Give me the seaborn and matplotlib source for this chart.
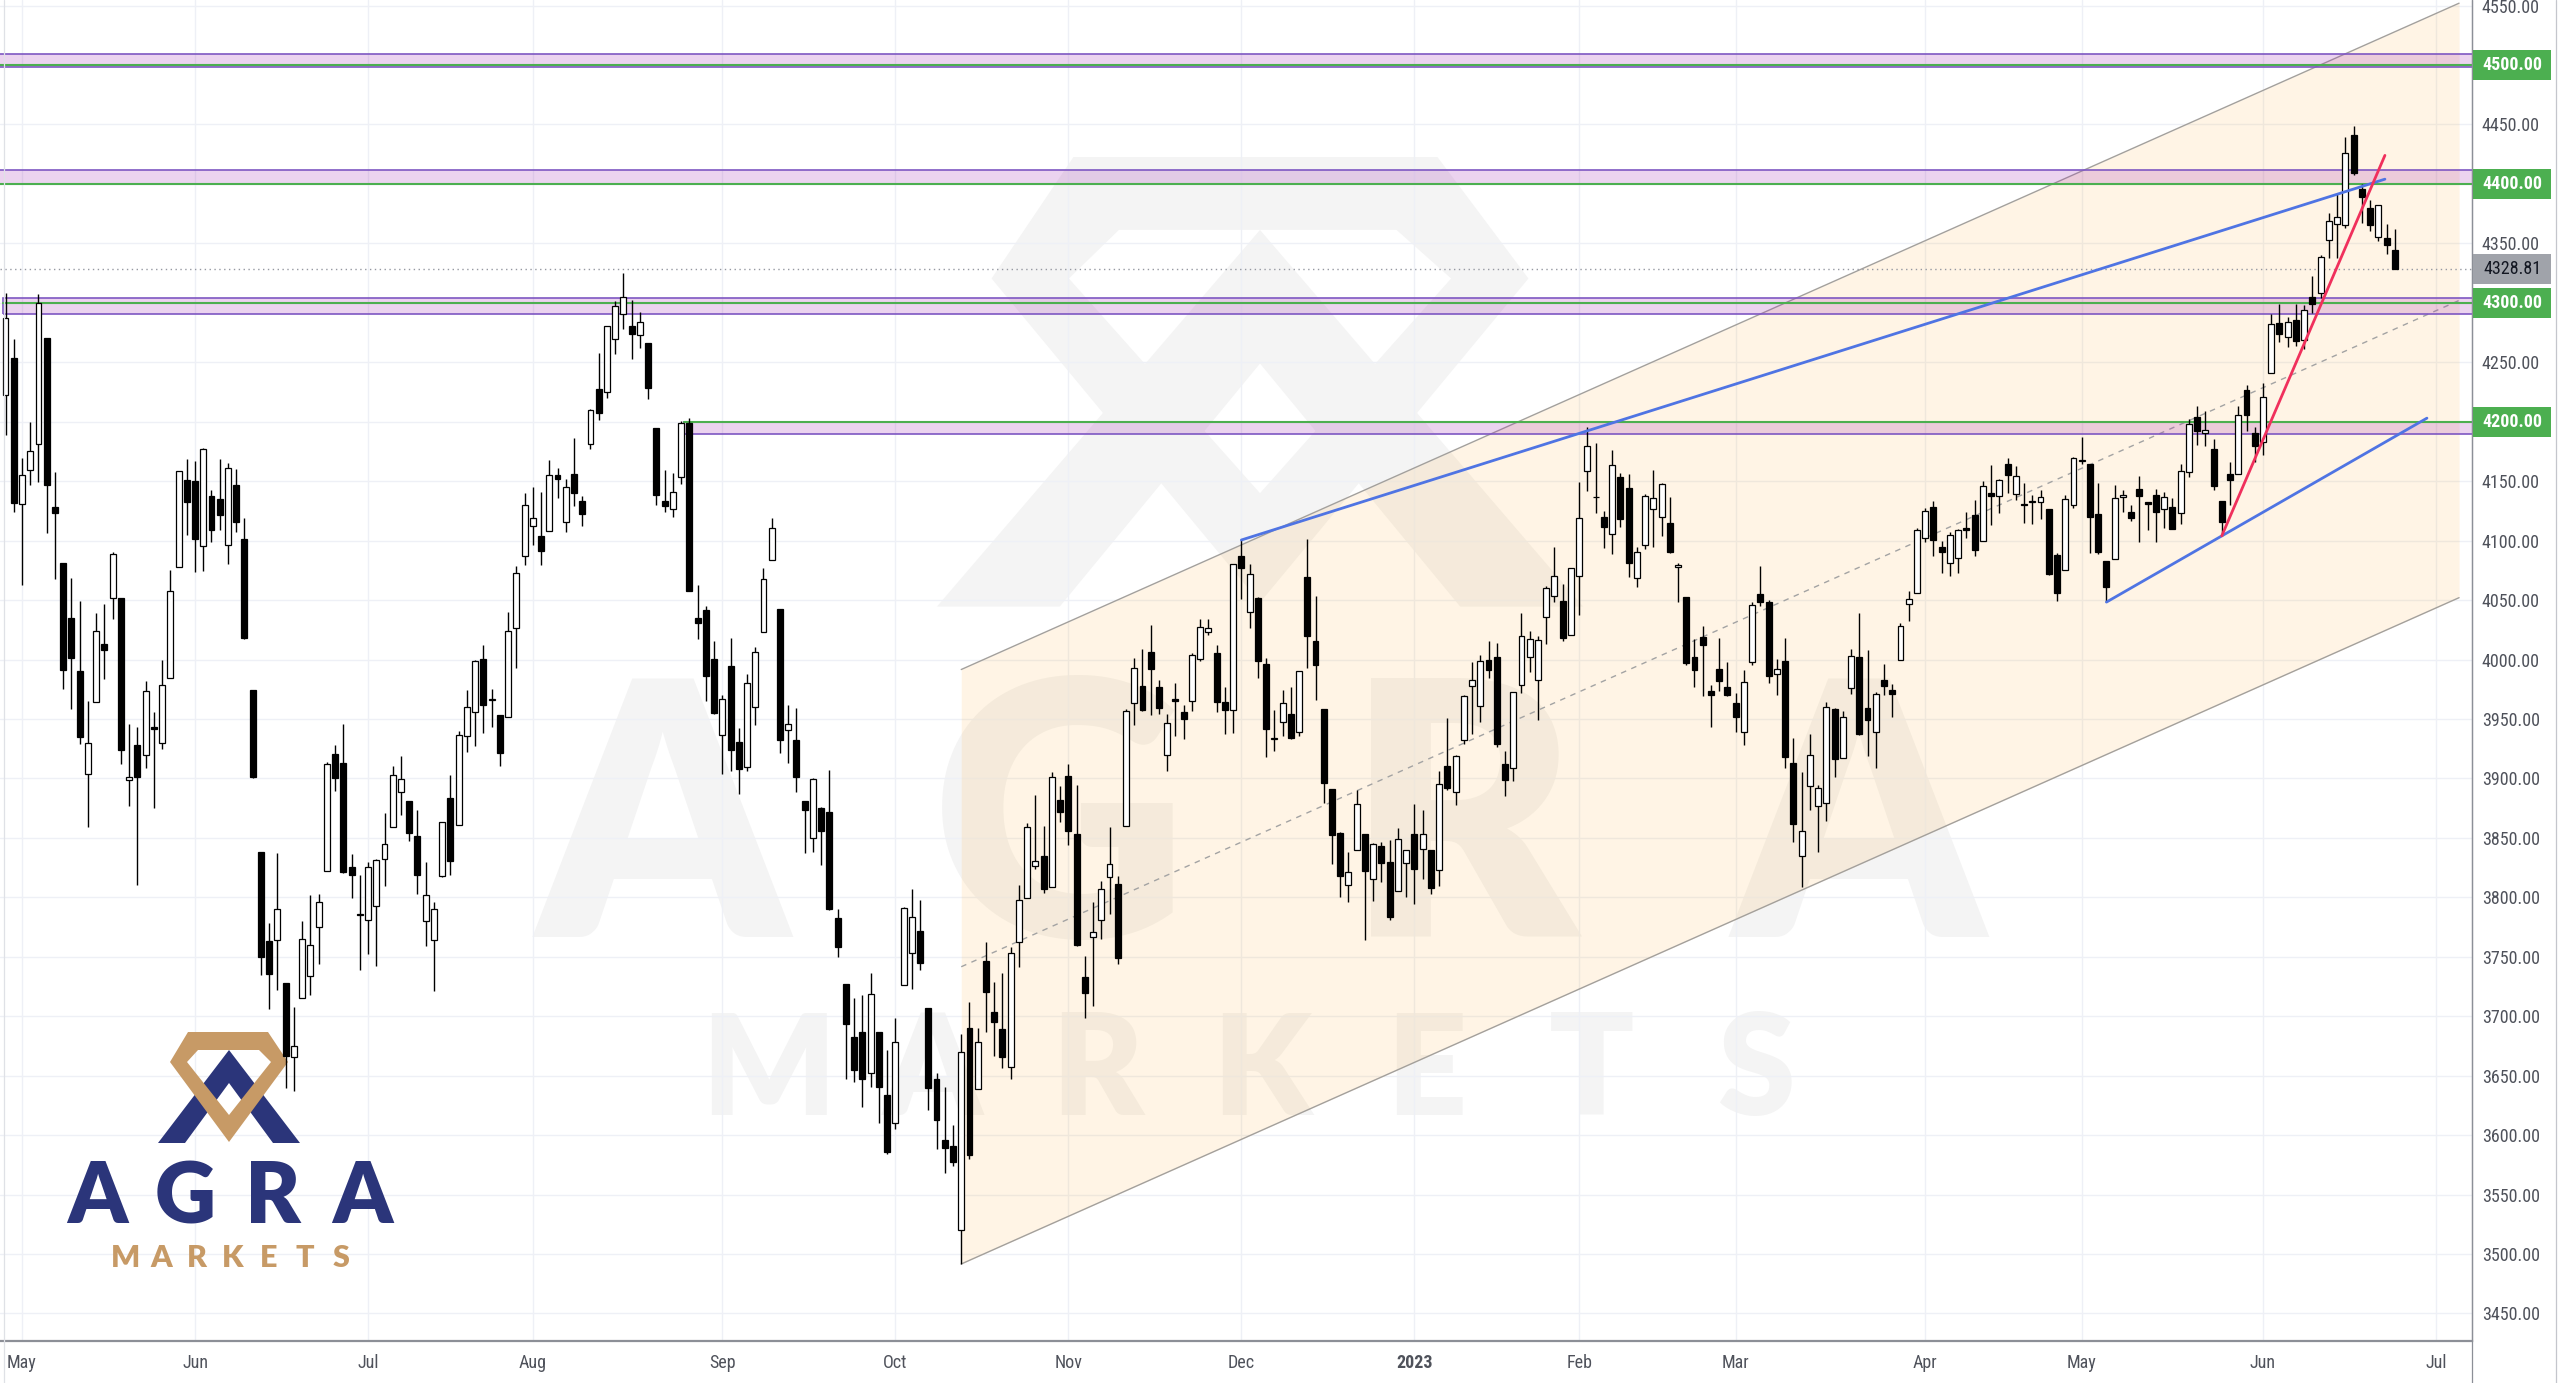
import numpy as np
import pandas as pd
import matplotlib
matplotlib.use('Agg')
import matplotlib.pyplot as plt
import matplotlib.transforms as mtransforms
from matplotlib import font_manager
import seaborn as sns
from matplotlib.patches import Polygon, Rectangle, PathPatch
from matplotlib.path import Path
from matplotlib.lines import Line2D

# S&P 500 daily candles: (open, high, low, close)
apr_2022 = [
    (4222.58, 4308.45, 4188.63, 4287.50), (4253.75, 4269.68, 4124.28, 4131.93),
]
may_2022 = [
    (4130.61, 4169.81, 4062.51, 4155.38), (4159.78, 4200.10, 4147.08, 4175.48),
    (4181.18, 4307.66, 4148.91, 4300.17), (4270.43, 4270.43, 4106.01, 4146.87),
    (4128.17, 4157.69, 4067.91, 4123.34), (4081.27, 4081.27, 3975.48, 3991.24),
    (4035.18, 4068.82, 3958.17, 4001.05), (3990.08, 4049.09, 3928.82, 3935.18),
    (3903.95, 3964.80, 3858.87, 3930.08), (3963.90, 4038.88, 3963.90, 4023.89),
    (4013.02, 4046.46, 3983.99, 4008.01), (4052.00, 4090.72, 4033.93, 4088.85),
    (4051.98, 4051.98, 3911.91, 3923.68), (3899.00, 3945.96, 3876.58, 3900.79),
    (3927.76, 3943.42, 3810.32, 3901.36), (3919.42, 3981.88, 3909.04, 3973.75),
    (3942.94, 3955.68, 3875.13, 3941.48), (3929.59, 3999.33, 3925.03, 3978.73),
    (3984.60, 4075.14, 3984.60, 4057.84), (4077.43, 4158.49, 4077.43, 4158.24),
    (4151.09, 4168.34, 4104.88, 4132.15),
]
jun_2022 = [
    (4149.78, 4166.54, 4073.85, 4101.23), (4095.41, 4177.51, 4074.37, 4176.82),
    (4137.57, 4142.67, 4098.67, 4108.54), (4134.72, 4168.78, 4109.18, 4121.43),
    (4096.47, 4164.86, 4080.19, 4160.68), (4147.12, 4160.14, 4107.20, 4115.77),
    (4101.65, 4119.10, 4017.17, 4017.82), (3974.39, 3974.39, 3900.16, 3900.86),
    (3838.15, 3838.15, 3734.30, 3749.63), (3763.52, 3778.18, 3705.68, 3735.48),
    (3764.05, 3837.56, 3722.30, 3789.99), (3728.18, 3728.18, 3639.77, 3666.77),
    (3665.90, 3707.71, 3636.87, 3674.84), (3715.31, 3779.65, 3715.31, 3764.79),
    (3733.89, 3801.79, 3717.69, 3759.89), (3774.71, 3802.58, 3743.52, 3795.73),
    (3821.75, 3913.65, 3821.75, 3911.74), (3920.76, 3927.72, 3889.66, 3900.11),
    (3913.00, 3945.86, 3820.14, 3821.55), (3825.09, 3836.50, 3799.02, 3818.83),
    (3785.99, 3818.99, 3738.67, 3785.38),
]
jul_2022 = [
    (3781.00, 3829.82, 3752.10, 3825.33), (3792.61, 3832.19, 3742.06, 3831.39),
    (3831.98, 3870.91, 3809.37, 3845.08), (3858.85, 3910.63, 3858.85, 3902.62),
    (3888.26, 3918.50, 3869.34, 3899.38), (3880.94, 3880.94, 3847.22, 3854.43),
    (3851.95, 3873.41, 3802.36, 3818.80), (3779.67, 3829.44, 3759.07, 3801.78),
    (3763.99, 3796.41, 3721.56, 3790.38), (3818.00, 3863.62, 3817.18, 3863.16),
    (3883.79, 3902.44, 3818.63, 3830.85), (3860.73, 3939.81, 3860.73, 3936.69),
    (3935.32, 3974.13, 3922.03, 3959.90), (3955.47, 3999.29, 3927.64, 3998.95),
    (4000.20, 4012.44, 3938.27, 3961.63), (3965.72, 3975.30, 3943.46, 3966.84),
    (3953.22, 3953.22, 3910.74, 3921.05), (3951.43, 4039.56, 3951.43, 4023.61),
    (4026.13, 4078.95, 3992.97, 4072.43), (4087.33, 4140.15, 4079.22, 4130.29),
]
aug_2022 = [
    (4112.38, 4144.95, 4096.02, 4118.63), (4104.21, 4140.47, 4079.81, 4091.19),
    (4107.96, 4167.66, 4107.96, 4155.17), (4154.85, 4161.29, 4135.42, 4151.94),
    (4115.87, 4151.58, 4107.31, 4145.19), (4155.93, 4186.62, 4128.97, 4140.06),
    (4133.11, 4137.30, 4112.09, 4122.47), (4181.02, 4211.03, 4177.26, 4210.24),
    (4227.40, 4257.91, 4201.41, 4207.27), (4225.02, 4280.47, 4219.78, 4280.15),
    (4269.37, 4301.79, 4256.90, 4297.14), (4290.46, 4325.28, 4277.77, 4305.20),
    (4280.40, 4302.18, 4253.08, 4274.04), (4273.13, 4292.53, 4261.98, 4283.74),
    (4266.31, 4266.31, 4218.70, 4228.48), (4195.08, 4195.08, 4129.86, 4137.99),
    (4133.09, 4159.77, 4124.03, 4128.73), (4126.55, 4156.56, 4119.97, 4140.77),
    (4153.26, 4200.54, 4147.59, 4199.12), (4198.74, 4203.04, 4057.66, 4057.66),
    (4034.58, 4062.99, 4017.42, 4030.61), (4041.25, 4044.98, 3965.21, 3986.16),
    (4000.67, 4015.37, 3954.53, 3955.00),
]
sep_2022 = [
    (3936.73, 3970.23, 3903.65, 3966.85), (3994.66, 4018.43, 3906.21, 3924.26),
    (3930.89, 3942.55, 3886.75, 3908.19), (3909.43, 3987.89, 3906.03, 3979.87),
    (3959.94, 4010.50, 3944.81, 4006.18), (4022.94, 4076.81, 4022.94, 4067.36),
    (4083.67, 4119.28, 4083.67, 4110.41), (4042.48, 4042.48, 3921.64, 3932.69),
    (3940.73, 3961.94, 3912.56, 3946.01), (3932.41, 3959.14, 3888.28, 3901.35),
    (3880.95, 3880.95, 3837.08, 3873.33), (3849.91, 3900.45, 3838.50, 3899.89),
    (3875.23, 3876.01, 3827.54, 3855.93), (3871.40, 3907.07, 3789.49, 3789.93),
    (3782.36, 3790.55, 3749.45, 3757.99), (3727.14, 3727.14, 3647.47, 3693.23),
    (3682.72, 3715.67, 3644.76, 3655.04), (3686.44, 3717.53, 3623.29, 3647.29),
    (3651.94, 3736.74, 3640.61, 3719.04), (3687.01, 3687.01, 3610.40, 3640.47),
    (3633.48, 3671.44, 3584.13, 3585.62),
]
oct_2022 = [
    (3609.78, 3698.35, 3604.93, 3678.43), (3726.46, 3791.92, 3726.46, 3790.93),
    (3753.25, 3806.91, 3722.66, 3783.28), (3771.97, 3797.93, 3739.22, 3744.52),
    (3706.74, 3706.74, 3620.73, 3639.66), (3647.51, 3652.17, 3588.10, 3612.39),
    (3595.86, 3640.66, 3568.45, 3588.84), (3590.83, 3608.34, 3573.86, 3577.03),
    (3520.37, 3685.41, 3491.58, 3669.91), (3690.41, 3712.00, 3579.68, 3583.07),
    (3638.65, 3689.73, 3638.65, 3677.95), (3746.26, 3762.79, 3686.53, 3719.98),
    (3703.11, 3728.58, 3666.51, 3695.16), (3689.05, 3736.00, 3656.44, 3665.78),
    (3657.10, 3757.89, 3647.42, 3752.75), (3762.01, 3810.74, 3741.65, 3797.34),
    (3799.44, 3862.85, 3799.44, 3859.11), (3825.97, 3886.15, 3824.07, 3830.60),
    (3834.69, 3859.95, 3803.79, 3807.30), (3808.26, 3905.42, 3808.26, 3901.06),
    (3881.86, 3893.73, 3863.18, 3871.98),
]
nov_2022 = [
    (3901.79, 3911.79, 3843.80, 3856.10), (3852.90, 3894.44, 3758.68, 3759.69),
    (3733.25, 3750.59, 3698.15, 3719.89), (3766.98, 3796.34, 3708.84, 3770.55),
    (3780.71, 3813.95, 3764.70, 3806.80), (3817.02, 3859.40, 3786.28, 3828.11),
    (3810.94, 3818.20, 3744.22, 3748.57), (3859.89, 3958.33, 3859.89, 3956.37),
    (3963.72, 4001.48, 3944.82, 3992.93), (3977.97, 4008.97, 3956.40, 3957.25),
    (4006.41, 4028.84, 3953.17, 3991.73), (3976.82, 3983.09, 3954.34, 3958.79),
    (3919.26, 3954.33, 3906.54, 3946.56), (3966.39, 3979.89, 3935.98, 3965.34),
    (3956.23, 3962.00, 3933.34, 3949.94), (3965.51, 4005.88, 3956.88, 4003.58),
    (4000.30, 4033.78, 3998.66, 4027.26), (4023.34, 4034.02, 4020.76, 4026.12),
    (4005.36, 4012.27, 3955.77, 3963.94), (3964.19, 3976.77, 3937.65, 3957.63),
    (3957.18, 4080.11, 3938.58, 4080.11),
]
dec_2022 = [
    (4087.14, 4100.51, 4050.87, 4076.57), (4040.17, 4080.48, 4026.63, 4071.70),
    (4052.02, 4052.45, 3984.49, 3998.84), (3996.63, 4001.51, 3918.39, 3941.26),
    (3933.28, 3957.57, 3922.68, 3933.92), (3947.79, 3974.19, 3935.83, 3963.51),
    (3954.17, 3977.02, 3933.04, 3934.38), (3939.29, 3990.71, 3935.30, 3990.56),
    (4069.38, 4100.96, 3993.03, 4019.65), (4015.54, 4053.76, 3965.65, 3995.32),
    (3958.37, 3958.37, 3879.45, 3895.75), (3890.91, 3890.91, 3827.91, 3852.36),
    (3853.79, 3854.86, 3800.04, 3817.66), (3810.47, 3838.24, 3795.62, 3821.62),
    (3839.49, 3889.82, 3839.49, 3878.44), (3853.26, 3853.26, 3764.49, 3822.39),
    (3815.11, 3845.80, 3797.01, 3844.82), (3843.34, 3846.65, 3813.22, 3829.25),
    (3829.56, 3848.32, 3780.78, 3783.22), (3805.45, 3858.19, 3805.45, 3849.28),
    (3829.06, 3839.85, 3800.34, 3839.50),
]
jan_2023 = [
    (3853.29, 3878.46, 3794.33, 3824.14), (3840.36, 3873.16, 3815.77, 3852.97),
    (3839.74, 3839.74, 3802.42, 3808.10), (3823.37, 3906.19, 3809.56, 3895.08),
    (3910.82, 3950.57, 3890.42, 3892.09), (3888.57, 3919.83, 3877.29, 3919.25),
    (3932.35, 3970.07, 3928.54, 3969.61), (3977.57, 3997.76, 3937.56, 3983.17),
    (3960.60, 4003.95, 3947.67, 3999.09), (3999.28, 4015.39, 3984.57, 3990.97),
    (4002.25, 4014.16, 3926.59, 3928.86), (3911.84, 3922.94, 3885.54, 3898.85),
    (3909.04, 3972.96, 3897.86, 3972.61), (3978.14, 4039.31, 3971.64, 4019.81),
    (4001.74, 4023.92, 3989.79, 4016.95), (3982.71, 4019.55, 3949.06, 4016.22),
    (4036.08, 4061.57, 4013.29, 4060.43), (4053.72, 4094.21, 4048.70, 4070.56),
    (4049.27, 4063.85, 4015.55, 4017.77), (4020.85, 4077.16, 4020.44, 4076.60),
]
feb_2023 = [
    (4070.07, 4148.95, 4037.20, 4119.21), (4158.68, 4195.44, 4141.88, 4179.76),
    (4136.69, 4182.36, 4123.36, 4136.48), (4119.57, 4124.63, 4093.38, 4111.08),
    (4105.35, 4176.54, 4088.39, 4164.00), (4153.47, 4156.85, 4111.67, 4117.86),
    (4144.25, 4156.23, 4069.67, 4081.50), (4068.92, 4094.36, 4060.79, 4090.46),
    (4096.62, 4138.90, 4092.67, 4137.29), (4126.70, 4159.77, 4095.01, 4136.13),
    (4119.50, 4148.11, 4103.98, 4147.60), (4114.75, 4136.54, 4089.49, 4090.41),
    (4077.39, 4081.51, 4047.95, 4079.09), (4052.35, 4052.35, 3995.19, 3997.34),
    (4001.83, 4017.37, 3976.90, 3991.05), (4018.60, 4028.30, 3969.19, 4012.32),
    (3973.24, 3978.25, 3943.08, 3970.04), (3992.36, 4018.05, 3973.55, 3982.24),
    (3977.19, 3997.50, 3968.98, 3970.15),
]
mar_2023 = [
    (3963.34, 3971.73, 3939.05, 3951.39), (3938.68, 3990.84, 3928.16, 3981.35),
    (3998.02, 4048.29, 3995.17, 4045.64), (4055.15, 4078.49, 4044.61, 4048.42),
    (4048.26, 4050.00, 3980.31, 3986.37), (3987.55, 4000.41, 3969.76, 3992.01),
    (3998.66, 4017.81, 3908.70, 3918.32), (3912.77, 3934.05, 3846.32, 3861.59),
    (3835.12, 3905.05, 3808.86, 3855.76), (3894.01, 3937.29, 3873.63, 3919.29),
    (3876.74, 3894.26, 3838.24, 3891.93), (3878.93, 3964.46, 3864.11, 3960.28),
    (3958.69, 3958.91, 3901.27, 3916.64), (3917.47, 3956.62, 3916.89, 3951.57),
    (3975.89, 4009.08, 3971.19, 4002.87), (4002.04, 4039.49, 3936.17, 3936.97),
    (3959.21, 4007.66, 3919.05, 3948.72), (3939.21, 3972.74, 3909.16, 3970.99),
    (3982.93, 3996.57, 3970.46, 3977.53), (3974.13, 3979.20, 3951.53, 3971.27),
    (3999.53, 4030.59, 3999.53, 4027.81), (4046.74, 4057.85, 4032.10, 4050.83),
    (4056.18, 4110.75, 4056.18, 4109.31),
]
apr_2023 = [
    (4102.20, 4127.66, 4098.79, 4124.51), (4128.03, 4133.13, 4086.87, 4100.60),
    (4094.50, 4099.69, 4072.56, 4090.38), (4081.15, 4107.32, 4069.84, 4105.02),
    (4085.20, 4109.50, 4072.55, 4109.11), (4110.29, 4124.26, 4102.61, 4108.94),
    (4121.72, 4134.37, 4086.94, 4091.95), (4100.04, 4150.26, 4099.40, 4146.22),
    (4140.11, 4163.19, 4113.20, 4137.64), (4137.17, 4151.72, 4123.18, 4151.32),
    (4164.26, 4169.48, 4140.36, 4154.87), (4139.33, 4162.57, 4134.49, 4154.52),
    (4130.48, 4148.57, 4114.57, 4129.79), (4132.14, 4138.02, 4113.86, 4133.52),
    (4132.07, 4142.41, 4117.77, 4137.04), (4126.43, 4126.43, 4071.38, 4071.63),
    (4087.78, 4089.67, 4049.35, 4055.99), (4075.29, 4138.24, 4075.29, 4135.35),
    (4129.63, 4170.06, 4127.18, 4169.48),
]
may_2023 = [
    (4166.79, 4186.92, 4164.12, 4167.87), (4164.10, 4164.10, 4089.72, 4119.58),
    (4122.25, 4148.30, 4088.86, 4090.75), (4082.61, 4082.61, 4048.28, 4061.22),
    (4084.73, 4147.02, 4084.73, 4136.25), (4136.98, 4142.30, 4123.81, 4138.12),
    (4124.25, 4130.35, 4116.65, 4119.17), (4143.74, 4154.28, 4098.92, 4137.64),
    (4132.24, 4132.80, 4109.29, 4130.62), (4138.54, 4143.74, 4099.12, 4124.08),
    (4126.65, 4141.25, 4110.27, 4136.28), (4127.95, 4135.54, 4109.86, 4109.90),
    (4122.85, 4164.67, 4113.62, 4158.77), (4157.68, 4202.20, 4153.50, 4198.05),
    (4204.15, 4212.91, 4180.20, 4191.98), (4190.78, 4209.22, 4179.68, 4192.63),
    (4176.80, 4185.68, 4142.54, 4145.58), (4132.96, 4132.96, 4103.98, 4115.24),
    (4155.71, 4165.74, 4129.73, 4151.28), (4156.16, 4212.87, 4156.16, 4205.45),
    (4226.71, 4231.10, 4192.18, 4205.52), (4190.74, 4195.44, 4166.15, 4179.83),
]
jun_2023 = [
    (4183.03, 4232.43, 4171.64, 4221.02), (4241.01, 4290.67, 4241.01, 4282.37),
    (4282.99, 4299.28, 4266.82, 4273.79), (4271.34, 4288.33, 4263.09, 4283.85),
    (4285.47, 4299.19, 4263.96, 4267.52), (4268.69, 4298.01, 4261.07, 4293.93),
    (4304.88, 4322.62, 4291.70, 4298.86), (4308.32, 4340.13, 4304.37, 4338.93),
    (4352.61, 4375.37, 4337.66, 4369.01), (4366.29, 4391.82, 4337.85, 4372.59),
    (4365.33, 4439.20, 4362.60, 4425.84), (4440.95, 4448.47, 4407.44, 4409.59),
    (4396.11, 4400.15, 4367.19, 4388.71), (4380.01, 4386.22, 4360.14, 4365.69),
    (4355.40, 4382.25, 4351.82, 4381.89), (4354.17, 4366.55, 4341.34, 4348.33),
    (4344.84, 4362.06, 4328.08, 4328.81),
]
month_blocks = [apr_2022, may_2022, jun_2022, jul_2022, aug_2022, sep_2022, oct_2022,
                nov_2022, dec_2022, jan_2023, feb_2023, mar_2023, apr_2023, may_2023, jun_2023]
month_labels = ['May', 'Jun', 'Jul', 'Aug', 'Sep', 'Oct', 'Nov', 'Dec', '2023',
                'Feb', 'Mar', 'Apr', 'May', 'Jun', 'Jul']
days_left_in_june = 4          # Jun 27-30 2023, still to come
last_price = 4328.81

# drawings on the chart (bar position, price)
channel_bars = [116, 297.8]
channel_lower = [3491.58, 4052.0]
channel_width = 500.0
blue_top_bars, blue_top_px = [150, 288.8], [4100.51, 4404.0]
blue_low_bars, blue_low_px = [255, 293.9], [4048.28, 4203.0]
red_bars, red_px = [269, 288.8], [4103.98, 4424.0]
# zones: (bottom, top, first bar or None = from the left edge)
zones = [(4498, 4509, None), (4400, 4412, None), (4291, 4304, -0.35), (4190, 4200, 82.3)]
levels = [4500, 4400, 4300, 4200]

df = pd.DataFrame([c for block in month_blocks for c in block],
                  columns=['open', 'high', 'low', 'close'])
df['x'] = np.arange(len(df))
starts = np.cumsum([len(b) for b in month_blocks])
month_pos = list(starts[:-1]) + [len(df) + days_left_in_june]

sns.set_theme(style='white')
plt.rcParams['font.family'] = ['DejaVu Sans']

# narrow axis font, like the screenshot
installed = {f.name for f in font_manager.fontManager.ttflist}
if 'Liberation Sans Narrow' in installed:
    AXFONT, AXSIZE = 'Liberation Sans Narrow', 14
elif 'Roboto Condensed' in installed:
    AXFONT, AXSIZE = 'Roboto Condensed', 13
else:
    AXFONT, AXSIZE = 'DejaVu Sans', 10.5

W, H = 2560, 1383
AX_R, AX_B = 2472, 1341
fig = plt.figure(figsize=(W / 100, H / 100), dpi=100)
fig.patch.set_facecolor('white')
ax = fig.add_axes([0, (H - AX_B) / H, AX_R / W, AX_B / H])
ax.set_facecolor('white')
ax.set_xlim(-0.67, 299.37)
ax.set_ylim(3426.8, 4554.7)

# grid + axes
yt = np.arange(3450, 4551, 50)
ax.set_yticks(yt)
ax.set_yticklabels([f'{v:.2f}' for v in yt])
ax.yaxis.tick_right()
ax.set_xticks(month_pos)
ax.set_xticklabels(month_labels)
ax.set_axisbelow(True)
ax.grid(True, color='#eef0f6', lw=1.0)
ax.tick_params(axis='y', length=0, pad=7, labelsize=AXSIZE, labelcolor='#4f525b')
ax.tick_params(axis='x', length=0, pad=9, labelsize=AXSIZE, labelcolor='#4f525b')
for lab in ax.get_xticklabels() + ax.get_yticklabels():
    lab.set_family(AXFONT)
    if lab.get_text() == '2023':
        lab.set_fontweight('bold')
for s in ['top', 'left']:
    ax.spines[s].set_visible(False)
ax.spines['bottom'].set_color('#8c8f97')
ax.spines['bottom'].set_linewidth(1.6)
ax.spines['right'].set_color('#8c8f97')
ax.spines['right'].set_linewidth(0.9)


def apx(x, y):
    return (x / AX_R, 1 - y / AX_B)


# logo geometry in pixels (small logo at bottom left)
DIAMOND_OUT = [(188, 1032), (268, 1032), (288, 1062), (229, 1142), (170, 1062)]
DIAMOND_IN = [(198, 1050), (259, 1050), (271, 1062), (229, 1115), (187, 1062)]
CHEVRON = [(158, 1143), (229, 1050), (300, 1143), (273, 1143), (229, 1083), (185, 1143)]


def place(pts, sx=1.0, sy=1.0, tx=229, ty=1032):
    return [apx(tx + (x - 229) * sx, ty + (y - 1032) * sy) for x, y in pts]


def ring(outer, inner):
    inner = inner[::-1]
    verts = outer + [outer[0]] + inner + [inner[0]]
    codes = [Path.MOVETO] + [Path.LINETO] * (len(outer) - 1) + [Path.CLOSEPOLY]
    codes += [Path.MOVETO] + [Path.LINETO] * (len(inner) - 1) + [Path.CLOSEPOLY]
    return Path(verts, codes)


def draw_logo(sx, sy, tx, ty, navy, gold, z):
    ax.add_patch(Polygon(place(CHEVRON, sx, sy, tx, ty), closed=True, fc=navy, ec='none',
                         transform=ax.transAxes, zorder=z))
    ax.add_patch(PathPatch(ring(place(DIAMOND_OUT, sx, sy, tx, ty), place(DIAMOND_IN, sx, sy, tx, ty)),
                           fc=gold, ec='none', transform=ax.transAxes, zorder=z))


# big watermark (under the grid)
wm = '#f4f4f4'
draw_logo(4.55, 4.05, 1260, 157, wm, wm, 0.2)
for ch, cx in zip('AGRA', [662, 1060, 1462, 1858]):
    ax.text(*apx(cx, 937), ch, transform=ax.transAxes, ha='center', va='baseline',
            fontsize=255, fontweight='heavy', family='Lato', color=wm, zorder=0.2)
for k, ch in enumerate('MARKETS'):
    ax.text(*apx(768 + k * 164.7, 1115), ch, transform=ax.transAxes, ha='center', va='baseline',
            fontsize=101, fontweight='heavy', family='Lato', color=wm, zorder=0.2)

# channel
cx = np.array(channel_bars)
low_line = np.array(channel_lower)
ax.fill_between(cx, low_line, low_line + channel_width, color='#ff9800', alpha=0.1, lw=0, zorder=1)
sns.lineplot(x=cx, y=low_line, ax=ax, color='#a3a09c', lw=1.0, zorder=1.2)
sns.lineplot(x=cx, y=low_line + channel_width, ax=ax, color='#a3a09c', lw=1.0, zorder=1.2)
ax.plot(cx, low_line + channel_width / 2, color='#a3a3a3', lw=1.0, ls=(0, (4, 4)), zorder=1.2)

# zones
for lo, hi, start in zones:
    x0 = ax.get_xlim()[0] - 5 if start is None else start
    ax.add_patch(Rectangle((x0, lo), 330 - x0, hi - lo, fc='#9c27b0', alpha=0.2, ec='none', zorder=1.5))
    ax.add_patch(Rectangle((x0, lo), 330 - x0, hi - lo, fc='none', ec='#7e57c2', lw=1.2, zorder=1.6))
for lv, (_, _, start) in zip(levels, zones):
    x0 = ax.get_xlim()[0] - 5 if start is None else start
    ax.plot([x0, 330], [lv, lv], color='#4caf50', lw=1.5, zorder=1.7)

# last price dotted line
ax.axhline(last_price, color='#9598a1', lw=1.0, ls=(0, (1, 2.5)), zorder=2.2)

# small logo
navy, gold = '#2b357a', '#c79a66'
draw_logo(1, 1, 229, 1032, navy, gold, 2.4)
for ch, cx_ in zip('AGRA', [97, 185, 273, 362]):
    ax.text(*apx(cx_, 1223), ch, transform=ax.transAxes, ha='center', va='baseline',
            fontsize=61, fontweight='heavy', family='Lato', color=navy, zorder=2.4)
for k, ch in enumerate('MARKETS'):
    ax.text(*apx(125 + k * 36, 1267), ch, transform=ax.transAxes, ha='center', va='baseline',
            fontsize=22, fontweight='heavy', family='Lato', color=gold, zorder=2.4)

# candles
up = df['close'] >= df['open']
ax.vlines(df['x'], df['low'], df['high'], color='black', lw=1.0, zorder=3)
ax.bar(df['x'][up], (df['close'] - df['open'])[up], bottom=df['open'][up], width=0.72,
       color='white', edgecolor='black', linewidth=0.9, zorder=4)
ax.bar(df['x'][~up], (df['open'] - df['close'])[~up], bottom=df['close'][~up], width=0.72,
       color='black', edgecolor='black', linewidth=0.9, zorder=4)

# trend lines
sns.lineplot(x=blue_top_bars, y=blue_top_px, ax=ax, color='#4f74e3', lw=2.0, zorder=6)
sns.lineplot(x=blue_low_bars, y=blue_low_px, ax=ax, color='#4f74e3', lw=2.0, zorder=6)
sns.lineplot(x=red_bars, y=red_px, ax=ax, color='#f0305c', lw=2.0, zorder=6)
ax.set_xlabel('')
ax.set_ylabel('')

# price-axis labels
blend = mtransforms.blended_transform_factory(fig.transFigure, ax.transData)
bx0, bw, bh = 2473 / W, 78 / W, 30 / 1.189
for lv in levels:
    fig.add_artist(Rectangle((bx0, lv - bh / 2), bw, bh, transform=blend, fc='#4caf50', ec='none', zorder=5))
    fig.text(bx0 + bw / 2, lv, f'{lv:.2f}', transform=blend, ha='center', va='center',
             fontsize=AXSIZE, family=AXFONT, color='white', fontweight='bold', zorder=6)
fig.add_artist(Rectangle((bx0, last_price - bh / 2), bw, bh, transform=blend, fc='#a0a3aa', ec='none', zorder=5))
fig.text(bx0 + bw / 2, last_price, f'{last_price:.2f}', transform=blend, ha='center', va='center',
         fontsize=AXSIZE, family=AXFONT, color='#131722', zorder=6)

# frame lines of the screenshot
fig.add_artist(Line2D([AX_R / W, AX_R / W], [0, 1], color='#8c8f97', lw=0.9))
fig.add_artist(Line2D([2556 / W, 2556 / W], [0, 1], color='#c4c6cc', lw=0.9))
fig.add_artist(Line2D([4 / W, 4 / W], [0, 1], color='#dfe1e6', lw=0.9))

fig.savefig('out.png', dpi=100)
